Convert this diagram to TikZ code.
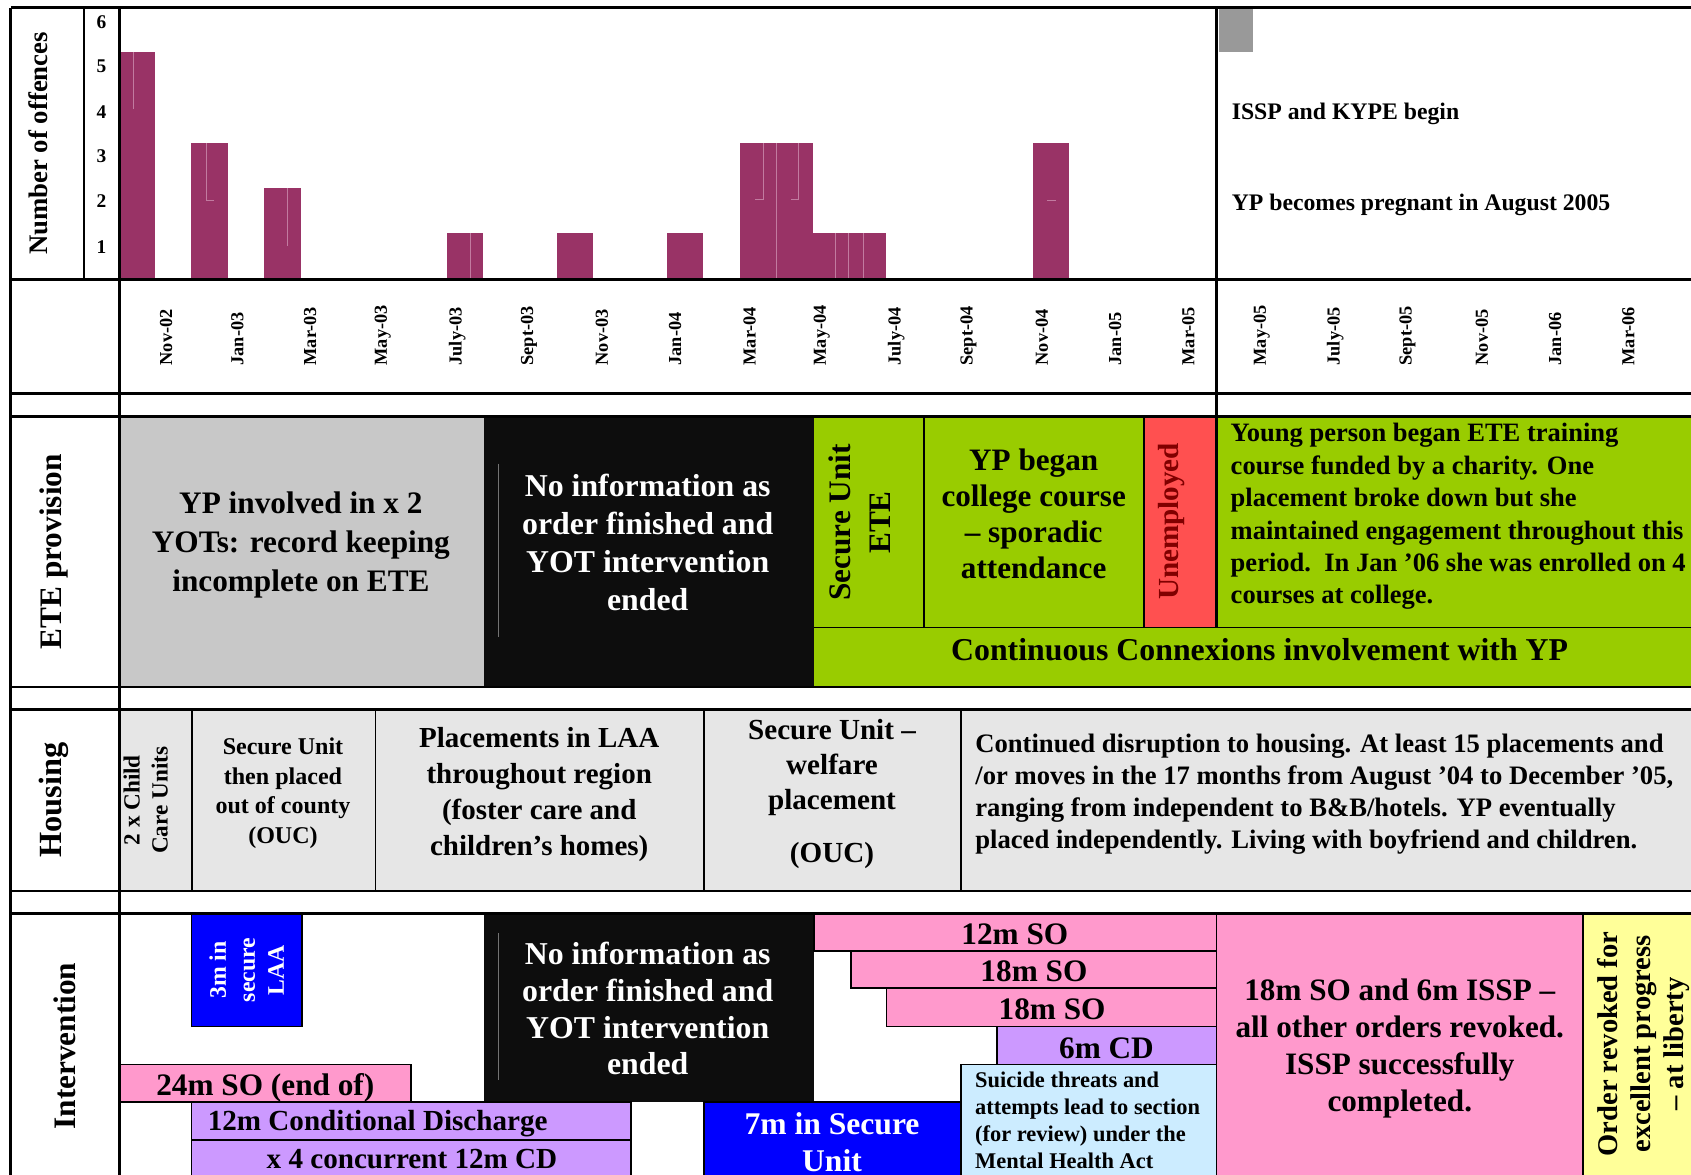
\documentclass[tikz,border=0pt]{standalone}
\usepackage{fontspec}
\setmainfont{Liberation Serif}
\definecolor{barc}{HTML}{993366}
\definecolor{barln}{HTML}{C27BA0}
\definecolor{eteg}{HTML}{C8C8C8}
\definecolor{blk}{HTML}{0D0D0D}
\definecolor{grn}{HTML}{99CC00}
\definecolor{redb}{HTML}{FF5050}
\definecolor{hsg}{HTML}{E6E6E6}
\definecolor{pnk}{HTML}{FF99CC}
\definecolor{prp}{HTML}{CC99FF}
\definecolor{blu}{HTML}{0000FF}
\definecolor{lblu}{HTML}{CCECFF}
\definecolor{ylw}{HTML}{FFFF99}
\definecolor{dred}{HTML}{800000}
\newcommand{\fsz}[2]{\fontsize{#1}{#2}\selectfont\bfseries}
\begin{document}
\begin{tikzpicture}[x=1pt,y=-1pt,
  rowline/.style={line width=2.4pt},
  boxline/.style={line width=1.4pt},
  txt/.style={inner sep=0pt, align=center},
  lbl/.style={inner sep=0pt, rotate=90},
  dlab/.style={inner sep=0pt, rotate=90, anchor=west, font=\fsz{17}{20}},
  lft/.style={inner sep=0pt, anchor=west, align=left}]
\useasboundingbox (0,0) rectangle (1568,1089);
\fill[white] (0,0) rectangle (1568,1089);

% ---------- chart bars ----------
\fill[barc] (111,48.5) rectangle (143.7,259);
\fill[barc] (177.5,132.6) rectangle (211.5,259);
\fill[barc] (245,174.6) rectangle (279,259);
\fill[barc] (414.5,216.4) rectangle (448,259);
\fill[barc] (516.5,216.4) rectangle (550,259);
\fill[barc] (618.5,216.4) rectangle (652,259);
\fill[barc] (686,132.6) rectangle (754,259);
\fill[barc] (754,216.4) rectangle (821.6,259);
\fill[barc] (958,132.6) rectangle (991,259);
\begin{scope}[draw=barln, line width=0.7pt]
\draw (123.5,48.5) -- (123.5,101);
\draw (191.6,132.6) -- (191.6,185.5) -- (198.7,185.5);
\draw (266.9,174.6) -- (266.9,227.8);
\draw (436.5,216.4) -- (436.5,259);
\draw (719.6,132.6) -- (719.6,259);
\draw (708,132.6) -- (708,185) -- (700,185);
\draw (740.6,132.6) -- (740.6,185) -- (733.5,185);
\draw (775,216.4) -- (775,259);
\draw (787,216.4) -- (787,259);
\draw (801,216.4) -- (801,259);
\draw (971,185.5) -- (979,185.5);
\end{scope}
\fill[black!40] (1130,8) rectangle (1162,48);

% ---------- ETE row fills ----------
\fill[eteg] (111,386) rectangle (449,637);
\fill[blk] (449,386) rectangle (755,637);
\fill[grn] (755,386) rectangle (1568,637);
\fill[redb] (1061,386) rectangle (1128,582);
\draw[boxline] (755,582) -- (1568,582);
\draw[boxline] (857,386) -- (857,582);
\draw[boxline] (1061,386) -- (1061,582);
\draw[black!55, line width=0.6pt] (462,430) -- (462,591);

% ---------- Housing row ----------
\fill[hsg] (111,658) rectangle (1568,826);
\foreach \xx in {178,348,653,891} \draw[boxline] (\xx,658) -- (\xx,826);

% ---------- Intervention row ----------
\filldraw[fill=blu, boxline] (177.5,847) rectangle (280,952);
\fill[blk] (449,847) rectangle (755,1022);
\draw[black!55, line width=0.6pt] (462,865) -- (462,1001);
\filldraw[fill=pnk, boxline] (111,987) rectangle (381,1022);
\filldraw[fill=prp, boxline] (177.5,1022) rectangle (585,1057);
\filldraw[fill=prp, boxline] (177.5,1057) rectangle (585,1100);
\filldraw[fill=blu, boxline] (653,1022) rectangle (891,1100);
\filldraw[fill=pnk, boxline] (755,847) rectangle (1128,882);
\filldraw[fill=pnk, boxline] (789,882) rectangle (1128,916);
\filldraw[fill=pnk, boxline] (822,916) rectangle (1128,952);
\filldraw[fill=prp, boxline] (924.6,952) rectangle (1128,987);
\filldraw[fill=lblu, boxline] (891,987) rectangle (1128,1100);
\filldraw[fill=pnk, boxline] (1128,847) rectangle (1468,1100);
\filldraw[fill=ylw, boxline] (1468,847) rectangle (1600,1100);

% ---------- grid lines ----------
\foreach \yy in {7,259,365,386,637,658,826,847} \draw[rowline] (10,\yy) -- (1600,\yy);
\draw[rowline] (10,7) -- (10,1100);
\draw[rowline] (111,7) -- (111,1100);
\draw[rowline] (78,7) -- (78,259);
\draw[line width=3pt] (1128,7) -- (1128,582);

% ---------- chart texts ----------
\node[lbl, font=\fsz{24.8}{28}] (noff) at (35.5,133) {Number of offences};
\foreach \v/\yy in {6/21,5/61,4/103.6,3/145,2/186.4,1/228.7}
  \node[inner sep=0pt, font=\fsz{18}{20}] (tick\v) at (94,\yy) {\v};
\foreach \xx/\t [count=\i] in {154/Nov-02,220/Jan-03,287.5/Mar-03,355/May-03,424/July-03,490.5/Sept-03,558/Nov-03,626/Jan-04,695/Mar-04,762/May-04,831/July-04,898/Sept-04,966/Nov-04,1034/Jan-05,1102/Mar-05,1170/May-05,1238/July-05,1305/Sept-05,1374/Nov-05,1442/Jan-06,1510/Mar-06}
  \node[dlab] (date\i) at (\xx,339) {\t};
\node[lft, font=\fsz{22}{26}] (issp) at (1142,106) {ISSP and KYPE begin};
\node[lft, font=\fsz{22}{26}] (preg) at (1142,190) {YP becomes pregnant in August 2005};

% ---------- ETE texts ----------
\node[lbl, font=\fsz{29}{34}] (etelbl) at (50,511.5) {ETE provision};
\node[txt, font=\fsz{29}{36}] (ete1) at (279,505.5) {YP involved in x 2\\YOTs: record keeping\\incomplete on ETE};
\node[txt, font=\fsz{29.5}{35.4}, text=white] (ete2) at (600.6,503) {No information as\\order finished and\\YOT intervention\\ended};
\node[lbl, txt, font=\fsz{29}{37}] (ete3) at (797,484.5) {Secure Unit\\ETE};
\node[txt, font=\fsz{28.9}{33.3}] (ete4) at (958.5,476.5) {YP began\\college course\\-- sporadic\\attendance};
\node[lbl, font=\fsz{27}{30}, text=dred] (ete5) at (1086.5,483.5) {Unemployed};
\node[lft, font=\fsz{24.6}{30}] (ete6) at (1141,479) {Young person began ETE training\\course funded by a charity. One\\placement broke down but she\\maintained engagement throughout this\\period.\ \ In Jan ’06 she was enrolled on 4\\courses at college.};
\node[txt, font=\fsz{29.5}{34}] (ete7) at (1168,602) {Continuous Connexions involvement with YP};

% ---------- Housing texts ----------
\node[lbl, font=\fsz{30}{34}] (hlbl) at (50,742) {Housing};
\node[lbl, txt, font=\fsz{21.5}{26}] (h1) at (135,742) {2 x Child\\Care Units};
\node[txt, font=\fsz{22.3}{27.3}] (h2) at (262.4,735.4) {Secure Unit\\then placed\\out of county\\(OUC)};
\node[txt, font=\fsz{26.9}{33.5}] (h3) at (500,736.5) {Placements in LAA\\throughout region\\(foster care and\\children’s homes)};
\node[txt, font=\fsz{27}{32.5}] (h4) at (771.5,736) {Secure Unit --\\welfare\\placement\\[16.2pt](OUC)};
\node[lft, font=\fsz{24.7}{29.9}] (h5) at (904.2,736.5) {Continued disruption to housing. At least 15 placements and\\/or moves in the 17 months from August ’04 to December ’05,\\ranging from independent to B\&B/hotels. YP eventually\\placed independently. Living with boyfriend and children.};

% ---------- Intervention texts ----------
\node[lbl, font=\fsz{29}{34}] (ilbl) at (60.3,970) {Intervention};
\node[lbl, txt, font=\fsz{22}{27}, text=white] (i1) at (228.7,899.5) {3m in\\secure\\LAA};
\node[txt, font=\fsz{29.5}{34}, text=white] (i2) at (600.6,935.5) {No information as\\order finished and\\YOT intervention\\ended};
\node[txt, font=\fsz{29}{34}] (i3) at (246,1008.5) {24m SO (end of)};
\node[lft, font=\fsz{27}{30}] (i4) at (192.5,1042) {12m Conditional Discharge};
\node[txt, font=\fsz{27}{30}] (i5) at (382,1075) {x 4 concurrent 12m CD};
\node[txt, font=\fsz{29.3}{34}, text=white] (i6) at (771.5,1059) {7m in Secure\\Unit};
\node[txt, font=\fsz{29}{34}] (i7) at (941,866) {12m SO};
\node[txt, font=\fsz{29}{34}] (i8) at (958.7,901) {18m SO};
\node[txt, font=\fsz{29}{34}] (i9) at (975.6,936) {18m SO};
\node[txt, font=\fsz{29}{34}] (i10) at (1026,971.6) {6m CD};
\node[lft, font=\fsz{20.8}{25}] (i11) at (904,1039) {Suicide threats and\\attempts lead to section\\(for review) under the\\Mental Health Act};
\node[txt, font=\fsz{28.9}{34.5}] (i12) at (1298,972.3) {18m SO and 6m ISSP --\\all other orders revoked.\\ISSP successfully\\completed.};
\node[lbl, txt, font=\fsz{26.5}{31}] (i13) at (1524,968) {Order revoked for\\excellent progress\\-- at liberty};
\end{tikzpicture}
\end{document}
